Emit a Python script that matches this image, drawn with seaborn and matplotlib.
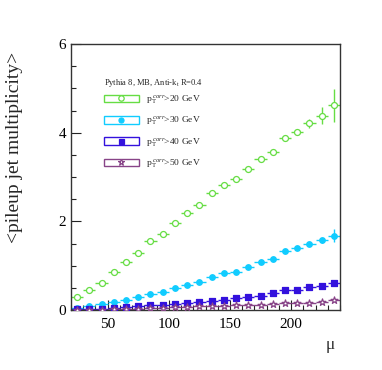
import numpy as np
import pandas as pd
import matplotlib
matplotlib.use("Agg")
import matplotlib.pyplot as plt
import seaborn as sns
from matplotlib.patches import Rectangle
from matplotlib.lines import Line2D
from matplotlib.legend_handler import HandlerTuple
from matplotlib.ticker import MultipleLocator

mu = [25, 35, 45, 55, 65, 75, 85, 95, 105, 115, 125, 135, 145, 155, 165, 175, 185, 195, 205, 215, 225, 235]
pt20 = [0.29, 0.44, 0.62, 0.86, 1.08, 1.29, 1.56, 1.71, 1.96, 2.19, 2.36, 2.65, 2.82, 2.95, 3.17, 3.40, 3.56, 3.87, 4.01, 4.21, 4.38, 4.62]
pt20_err = [0.02, 0.02, 0.02, 0.02, 0.02, 0.02, 0.02, 0.02, 0.02, 0.02, 0.02, 0.02, 0.02, 0.03, 0.03, 0.03, 0.04, 0.05, 0.06, 0.10, 0.19, 0.37]
pt30 = [0.05, 0.09, 0.14, 0.19, 0.23, 0.29, 0.37, 0.40, 0.50, 0.57, 0.63, 0.74, 0.84, 0.86, 0.97, 1.08, 1.16, 1.33, 1.39, 1.48, 1.57, 1.68]
pt30_err = [0.01, 0.01, 0.01, 0.01, 0.01, 0.01, 0.01, 0.01, 0.01, 0.01, 0.01, 0.01, 0.01, 0.01, 0.01, 0.02, 0.02, 0.02, 0.03, 0.03, 0.05, 0.14]
pt40 = [0.02, 0.02, 0.03, 0.05, 0.06, 0.08, 0.11, 0.12, 0.14, 0.16, 0.18, 0.21, 0.23, 0.26, 0.30, 0.32, 0.38, 0.44, 0.45, 0.52, 0.54, 0.62]
pt40_err = [0.005, 0.005, 0.005, 0.005, 0.005, 0.005, 0.005, 0.005, 0.005, 0.005, 0.005, 0.005, 0.01, 0.01, 0.01, 0.01, 0.01, 0.01, 0.01, 0.02, 0.02, 0.04]
pt50 = [0.005, 0.005, 0.01, 0.02, 0.02, 0.03, 0.04, 0.05, 0.06, 0.07, 0.08, 0.09, 0.10, 0.11, 0.11, 0.12, 0.13, 0.15, 0.16, 0.16, 0.19, 0.22]
pt50_err = [0.003] * 18 + [0.005, 0.008, 0.01, 0.02]

labels = [r"p$_{\,\mathrm{T}}^{\;\mathit{corr}}$>20 GeV", r"p$_{\,\mathrm{T}}^{\;\mathit{corr}}$>30 GeV",
          r"p$_{\,\mathrm{T}}^{\;\mathit{corr}}$>40 GeV", r"p$_{\,\mathrm{T}}^{\;\mathit{corr}}$>50 GeV"]
title = r"Pythia 8, MB, Anti-k$_\mathrm{t}$ R=0.4"
colors = ["#66dd44", "#11ccff", "#3311dd", "#884488"]
markers = ["o", "o", "s", "*"]
filled = [False, True, True, False]
msizes = [4.3, 4.0, 4.0, 5.2]
series = [pt20, pt30, pt40, pt50]
errs = [pt20_err, pt30_err, pt40_err, pt50_err]

sns.set_style("ticks")
plt.rcParams["font.family"] = ["Liberation Serif", "DejaVu Serif"]
plt.rcParams["mathtext.fontset"] = "custom"
plt.rcParams["mathtext.rm"] = "Liberation Serif"
plt.rcParams["mathtext.it"] = "Liberation Serif:italic"

fig = plt.figure(figsize=(3.82, 3.70), dpi=100)
ax = fig.add_axes([71/382, 1-310/370, (340-71)/382, (310-44)/370])

handles = []
for lab, col, mk, fl, ms, ys, ye in zip(labels, colors, markers, filled, msizes, series, errs):
    df = pd.DataFrame({"mu": mu, "val": ys})
    ax.errorbar(mu, ys, xerr=5, yerr=ye, fmt="none", ecolor=col, elinewidth=1.0, capsize=0, zorder=2)
    sns.scatterplot(data=df, x="mu", y="val", ax=ax, marker=mk, s=ms**2,
                    facecolor=(col if fl else "white"), edgecolor=col, linewidth=0.9, zorder=3, legend=False)
    rect = Rectangle((0, 0), 1, 1, facecolor="white", edgecolor=col, linewidth=1.0)
    ln = Line2D([], [], linestyle="none", marker=mk, markersize=ms*0.9,
                markerfacecolor=(col if fl else "white"), markeredgecolor=col, markeredgewidth=0.9)
    handles.append((rect, ln))

ax.set_xlim(20, 240)
ax.set_ylim(0, 6)
ax.set_xticks([50, 100, 150, 200])
ax.set_yticks([0, 2, 4, 6])
ax.xaxis.set_minor_locator(MultipleLocator(10))
ax.yaxis.set_minor_locator(MultipleLocator(0.5))
ax.tick_params(which="both", direction="in", top=False, right=False, labelsize=11, colors="#222222")
ax.tick_params(which="major", length=7, width=0.8)
ax.tick_params(which="minor", length=3.5, width=0.8)
ax.tick_params(axis="x", pad=6)
for sp in ax.spines.values():
    sp.set_visible(True)
    sp.set_color("#333333")
    sp.set_linewidth(1.0)
for t in ax.get_xticklabels() + ax.get_yticklabels():
    t.set_color("black")

ax.set_xlabel("")
ax.set_ylabel("")
fig.text(15/382, 1-147/370, "<pileup jet multiplicity>", rotation=90, ha="center", va="center", fontsize=14)
fig.text(330/382, 1-345/370, "μ", ha="center", va="center", fontsize=12.5)

fig.text(104/382, 1-83/370, title, ha="left", va="center", fontsize=6.1)
leg = ax.legend(handles, labels, handler_map={tuple: HandlerTuple(ndivide=1)},
                loc="upper left", bbox_to_anchor=((104-71)/269, (310-93.5)/266),
                frameon=False, fontsize=6.8, borderpad=0, borderaxespad=0,
                handlelength=3.7, handleheight=0.85, handletextpad=0.8, labelspacing=0.92)

fig.savefig("out.png", dpi=100)
